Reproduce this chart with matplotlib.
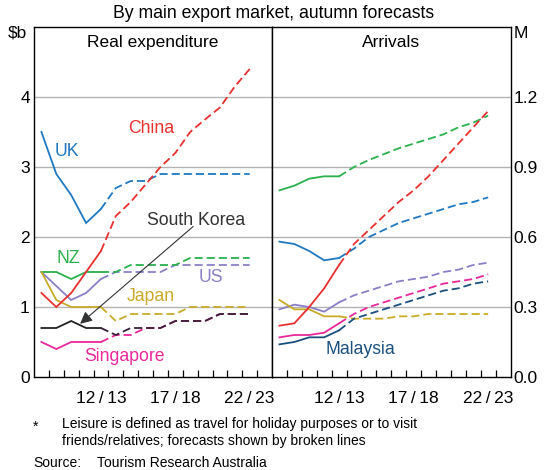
import matplotlib
matplotlib.use("Agg")
import matplotlib.pyplot as plt
import numpy as np

plt.rcParams['font.family'] = ['Liberation Sans', 'DejaVu Sans']

years = ['08/09', '09/10', '10/11', '11/12', '12/13', '13/14', '14/15', '15/16',
         '16/17', '17/18', '18/19', '19/20', '20/21', '21/22', '22/23']
last_actual = 4  # 12/13 is last actual; forecasts after
tick_labels = {'12/13': '12\u2009/\u200913', '17/18': '17\u2009/\u200918', '22/23': '22\u2009/\u200923'}

# Real expenditure ($b)
exp_uk = [3.5, 2.9, 2.6, 2.2, 2.4, 2.7, 2.8, 2.8, 2.9, 2.9, 2.9, 2.9, 2.9, 2.9, 2.9]
exp_china = [1.2, 1.0, 1.2, 1.5, 1.8, 2.3, 2.5, 2.75, 3.0, 3.2, 3.5, 3.68, 3.85, 4.15, 4.4]
exp_nz = [1.5, 1.5, 1.4, 1.5, 1.5, 1.5, 1.6, 1.6, 1.6, 1.6, 1.7, 1.7, 1.7, 1.7, 1.7]
exp_us = [1.5, 1.3, 1.1, 1.2, 1.4, 1.5, 1.5, 1.5, 1.5, 1.6, 1.6, 1.6, 1.6, 1.6, 1.6]
exp_japan = [1.5, 1.1, 1.0, 1.0, 1.0, 0.8, 0.9, 0.9, 0.9, 0.9, 1.0, 1.0, 1.0, 1.0, 1.0]
exp_skorea = [0.7, 0.7, 0.8, 0.7, 0.7, 0.6, 0.7, 0.7, 0.7, 0.8, 0.8, 0.8, 0.9, 0.9, 0.9]
exp_singapore = [0.5, 0.4, 0.5, 0.5, 0.5, 0.6, 0.6, 0.7, 0.7, 0.8, 0.8, 0.8, 0.9, 0.9, 0.9]

# Arrivals (M)
arr_nz = [0.80, 0.82, 0.85, 0.86, 0.86, 0.90, 0.93, 0.955, 0.98, 1.00, 1.02, 1.04, 1.07, 1.09, 1.12]
arr_china = [0.22, 0.23, 0.30, 0.38, 0.48, 0.57, 0.63, 0.69, 0.75, 0.80, 0.86, 0.93, 1.00, 1.07, 1.14]
arr_uk = [0.58, 0.57, 0.54, 0.50, 0.51, 0.55, 0.60, 0.63, 0.66, 0.68, 0.70, 0.72, 0.74, 0.75, 0.77]
arr_us = [0.29, 0.31, 0.30, 0.28, 0.32, 0.35, 0.37, 0.39, 0.41, 0.42, 0.43, 0.45, 0.46, 0.48, 0.49]
arr_japan = [0.33, 0.29, 0.29, 0.26, 0.26, 0.25, 0.25, 0.25, 0.26, 0.26, 0.27, 0.27, 0.27, 0.27, 0.27]
arr_singapore = [0.17, 0.18, 0.18, 0.19, 0.23, 0.27, 0.30, 0.32, 0.34, 0.36, 0.38, 0.40, 0.41, 0.42, 0.44]
arr_malaysia = [0.14, 0.15, 0.17, 0.17, 0.20, 0.25, 0.27, 0.29, 0.31, 0.33, 0.35, 0.37, 0.38, 0.40, 0.41]

C_UK = '#1f78c1'
C_CHINA = '#e8302e'
C_NZ = '#2ab04d'
C_US = '#8b7fc7'
C_JAPAN = '#c9ab2a'
C_KOREA = '#222222'
C_SING = '#e8289a'
C_MAL = '#1b4f7e'

fig = plt.figure(figsize=(5.48, 4.70), dpi=100)
L, R, B, T = 34/548, 510.5/548, 1-377/470, 1-27/470
mid = 272/548
axl = fig.add_axes([L, B, mid-L, T-B])
axr = fig.add_axes([mid, B, R-mid, T-B])

x = np.arange(len(years))
LW = 1.3
DASH = (0, (4.5, 2.2))

def plot_series(ax, vals, color, fcolor=None, z=2):
    v = np.asarray(vals, float)
    ax.plot(x[:last_actual+1], v[:last_actual+1], color=color, lw=LW, solid_joinstyle='miter', zorder=z)
    ax.plot(x[last_actual:], v[last_actual:], color=fcolor or color, lw=LW, linestyle=DASH, zorder=z)

# left panel
plot_series(axl, exp_uk, C_UK)
plot_series(axl, exp_us, C_US)
plot_series(axl, exp_nz, C_NZ)
plot_series(axl, exp_japan, C_JAPAN)
plot_series(axl, exp_singapore, C_SING)
plot_series(axl, exp_skorea, C_KOREA, fcolor='#3a2035', z=3)
plot_series(axl, exp_china, C_CHINA, z=4)

# right panel
plot_series(axr, arr_nz, C_NZ)
plot_series(axr, arr_uk, C_UK)
plot_series(axr, arr_us, C_US)
plot_series(axr, arr_japan, C_JAPAN)
plot_series(axr, arr_malaysia, C_MAL)
plot_series(axr, arr_singapore, C_SING)
plot_series(axr, arr_china, C_CHINA, z=4)

TFS = 12.5
for ax, ymax, yt in [(axl, 5, [0, 1, 2, 3, 4]), (axr, 1.5, [0.0, 0.3, 0.6, 0.9, 1.2])]:
    ax.set_xlim(-0.5, 15.5)
    ax.set_ylim(0, ymax)
    ax.set_yticks(yt)
    for g in yt[1:]:
        ax.axhline(g, color='#b3b3b3', lw=1.0, zorder=1)
    for s in ax.spines.values():
        s.set_color('black')
        s.set_linewidth(1.0)
    pos = [years.index(k) for k in tick_labels]
    ax.set_xticks(pos)
    ax.set_xticklabels(list(tick_labels.values()), fontsize=TFS)
    ax.set_xticks(np.arange(0.5, 15, 1), minor=True)
    ax.tick_params(axis='x', which='major', length=0, pad=10)
    ax.tick_params(axis='x', which='minor', direction='in', length=5, width=0.9, color='black')
    ax.tick_params(axis='y', length=0, labelsize=TFS)

axl.set_yticklabels(['0', '1', '2', '3', '4'])
axl.tick_params(axis='y', pad=3)
axr.yaxis.tick_right()
axr.set_yticklabels(['0.0', '0.3', '0.6', '0.9', '1.2'])
axr.tick_params(axis='y', pad=2, right=False)

axl.text(0.5, 0.955, 'Real expenditure', transform=axl.transAxes, ha='center', va='center', fontsize=TFS)
axr.text(0.5, 0.955, 'Arrivals', transform=axr.transAxes, ha='center', va='center', fontsize=TFS)

fs = 12.7
axl.text(1.72, 3.22, 'UK', color=C_UK, fontsize=fs, ha='center', va='center')
axl.text(7.4, 3.55, 'China', color=C_CHINA, fontsize=fs, ha='center', va='center')
axl.text(10.4, 2.23, 'South Korea', color='#333333', fontsize=fs, ha='center', va='center')
axl.text(1.8, 1.69, 'NZ', color=C_NZ, fontsize=fs, ha='center', va='center')
axl.text(11.4, 1.42, 'US', color=C_US, fontsize=fs, ha='center', va='center')
axl.text(7.35, 1.15, 'Japan', color=C_JAPAN, fontsize=fs, ha='center', va='center')
axl.text(5.6, 0.29, 'Singapore', color=C_SING, fontsize=fs, ha='center', va='center')
axr.text(5.46, 0.12, 'Malaysia', color=C_MAL, fontsize=fs, ha='center', va='center')

axl.annotate('', xy=(2.6, 0.76), xytext=(10.2, 2.15),
             arrowprops=dict(arrowstyle='-|>', color='#333333', lw=0.8,
                             mutation_scale=18, shrinkA=0, shrinkB=0), zorder=5)

fig.text(274/548, 1-13/470, 'By main export market, autumn forecasts', ha='center', va='center', fontsize=12.7)
fig.text(17/548, 1-33/470, '$b', ha='center', va='center', fontsize=TFS)
fig.text(521/548, 1-33/470, 'M', ha='center', va='center', fontsize=TFS)

FFS = 10
fig.text(33/548, 1-427/470, '*', ha='left', va='center', fontsize=FFS)
fig.text(62/548, 1-424/470, 'Leisure is defined as travel for holiday purposes or to visit',
         ha='left', va='center', fontsize=FFS)
fig.text(62/548, 1-441/470, 'friends/relatives; forecasts shown by broken lines',
         ha='left', va='center', fontsize=FFS)
fig.text(33/548, 1-463/470, 'Source:', ha='left', va='center', fontsize=FFS)
fig.text(97/548, 1-463/470, 'Tourism Research Australia', ha='left', va='center', fontsize=FFS)

fig.savefig('out.png', dpi=100)
